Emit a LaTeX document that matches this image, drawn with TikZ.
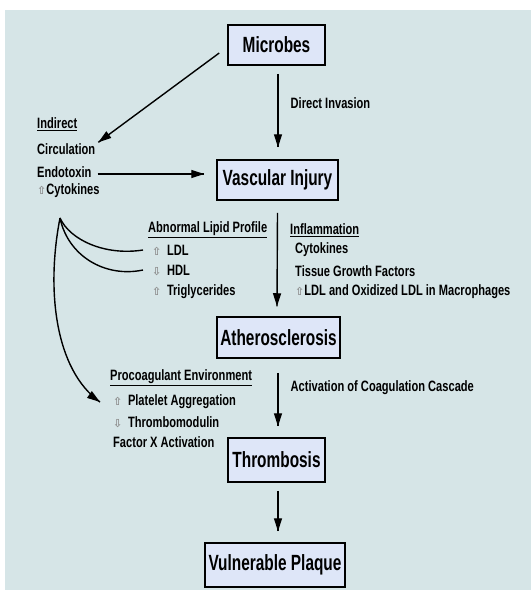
\documentclass[tikz,border=0pt]{standalone}
\usepackage{fontspec}
\newfontfamily\condfont{Liberation Sans}[FakeStretch=0.7]
\newfontfamily\narrowfont{Liberation Sans}[FakeStretch=0.74]
\newfontfamily\symfont{DejaVu Sans}
\usetikzlibrary{calc,arrows.meta,
                 decorations.markings}
\definecolor{panel}{RGB}{214,229,231}
\definecolor{boxblue}{RGB}{222,230,248}
\tikzset{->/.style = {decoration={markings, mark=at position 1 with {\arrow{Triangle[length=13pt,width=8pt]}}}, postaction={decorate}}}
\tikzset{box/.style = {draw, line width=1.5pt, fill=boxblue, inner sep=0pt,
                       font=\condfont\bfseries\fontsize{22}{26}\selectfont}}
\tikzset{txt/.style = {anchor=west, inner sep=0pt,
                       font=\narrowfont\bfseries\fontsize{15}{17}\selectfont}}
\newcommand{\uparr}{{\symfont\color{black!45}\fontsize{11}{11}\selectfont ⇧}}
\newcommand{\dnarr}{{\symfont\color{black!45}\fontsize{11}{11}\selectfont ⇩}}
\begin{document}
\begin{tikzpicture}[x=1pt,y=-1pt]
      \useasboundingbox (0,0) rectangle (531,590);
      \fill [panel] (5,10) rectangle (531,590);
      % main chain
      \node [box, minimum width=97pt, minimum height=40pt] (micro) at (276.5,45) {Microbes};
      \node [box, minimum width=121pt, minimum height=40pt] (vi) at (277.5,180) {Vascular Injury};
      \node [box, minimum width=123pt, minimum height=41pt] (ath) at (278.5,337.5) {Atherosclerosis};
      \node [box, minimum width=97pt, minimum height=44pt] (thr) at (276.5,460) {Thrombosis};
      \node [box, minimum width=140pt, minimum height=44pt] (vp) at (275,565) {Vulnerable Plaque};
      \draw [->, line width=1.4pt] ($(micro.south)+(1.5,8)$) -- ($(vi.north)+(0.5,-12)$)
            node [txt, pos = 0.4, right=12pt] {Direct Invasion};
      \draw [->, line width=1.4pt] ($(vi.south)+(0,12)$) -- ($(ath.north)+(-1.5,-10)$);
      \draw [->, line width=1.4pt] ($(ath.south)+(-0.5,14)$) -- ($(thr.north)+(1.5,-11)$)
            node [txt, pos = 0.28, right=12pt] {Activation of Coagulation Cascade};
      \draw [->, line width=1.4pt] ($(thr.south)+(1.5,8)$) -- ($(vp.north)+(3,-11)$);
      % indirect
      \node [txt] (ind) at (37,124) {\underline{Indirect}};
      \node [txt] (circ) at (37,149) {Circulation};
      \node [txt] (endo) at (37,172) {Endotoxin};
      \node [txt] (cyto) at (37,191) {\uparr Cytokines};
      \draw [->, line width=1.4pt] ($(micro.west)+(-8,8)$) -- ($(circ.north east)+(3,-1)$);
      \draw [->, line width=1.4pt] ($(endo.east)+(6,2)$) -- ($(endo.east -| vi.west)+(-12,2)$);
      % lipids
      \node [txt] (lip) at (148,230) {\underline{Abnormal Lipid Profile}};
      \node [txt] (ldl) at (152,250) {\uparr\, LDL};
      \node [txt] (hdl) at (152,270) {\dnarr\, HDL};
      \node [txt] (tri) at (152,292) {\uparr\, Triglycerides};
      % inflammation
      \node [txt] (infl) at (290,230) {\underline{Inflammation}};
      \node [txt] (cytk) at (295,250) {Cytokines};
      \node [txt] (tgf) at (295,271) {Tissue Growth Factors};
      \node [txt] (oxl) at (295,292) {\uparr LDL and Oxidized LDL in Macrophages};
      % procoagulant
      \node [txt] (proc) at (110,378) {\underline{Procoagulant Environment}};
      \node [txt] (plt) at (113,402) {\uparr\, Platelet Aggregation};
      \node [txt] (tmod) at (113,422) {\dnarr\, Thrombomodulin};
      \node [txt] (fx) at (113,442) {Factor X Activation};
      % curved arrows
      \coordinate (fork) at (60,218);
      \draw [->, line width=1.4pt] (fork) .. controls (70,240) and (105,256) .. ($(ldl.west)+(-9,0)$);
      \draw [->, line width=1.4pt] (fork) .. controls (68,256) and (105,278) .. ($(hdl.west)+(-9,0)$);
      \draw [->, line width=1.4pt] (fork) .. controls (46,290) and (55,370) .. ($(plt.west)+(-13,0)$);
    \end{tikzpicture}
\end{document}
